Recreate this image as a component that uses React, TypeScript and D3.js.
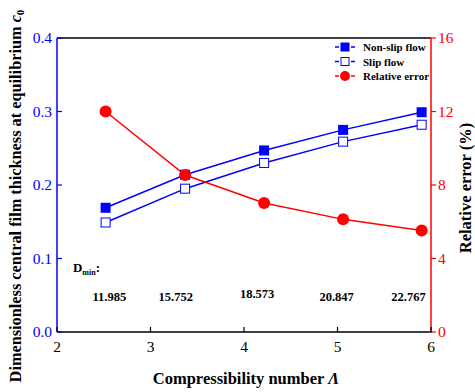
import * as d3 from "d3";

const lambdas = [2.52, 3.37, 4.215, 5.06, 5.9];
const nonSlip = [0.169, 0.214, 0.247, 0.275, 0.299];
const slip = [0.149, 0.195, 0.230, 0.259, 0.282];
const relError = [12.0, 8.54, 7.02, 6.13, 5.53];
const dminLabels = ["11.985", "15.752", "18.573", "20.847", "22.767"];
const dminX = [2.56, 3.27, 4.14, 4.99, 5.76];
const xTicks = [2, 3, 4, 5, 6];
const yTicks = [0, 0.1, 0.2, 0.3, 0.4];
const rTicks = [0, 4, 8, 12, 16];

const W = 475;
const H = 392;
const m = { left: 57, right: 431, top: 38, bottom: 332 };
const font = "Liberation Serif, Times New Roman, DejaVu Serif, serif";

export default function App() {
  const x = d3.scaleLinear().domain([2, 6]).range([m.left, m.right]);
  const y = d3.scaleLinear().domain([0, 0.4]).range([m.bottom, m.top]);
  const yr = d3.scaleLinear().domain([0, 16]).range([m.bottom, m.top]);

  const line = d3
    .line<number>()
    .x((_, i) => x(lambdas[i]))
    .y((d) => y(d));
  const lineR = d3
    .line<number>()
    .x((_, i) => x(lambdas[i]))
    .y((d) => yr(d));

  const sq = 10;
  const legend = [
    { label: "Non-slip flow", color: "blue", kind: "filled" },
    { label: "Slip flow", color: "blue", kind: "open" },
    { label: "Relative error", color: "red", kind: "circle" },
  ];

  return (
    <svg width={W} height={H} style={{ position: "absolute", left: 0, top: 0, fontFamily: font }}>
      {/* frame */}
      <line x1={m.left} x2={m.right} y1={m.top} y2={m.top} stroke="black" strokeWidth={1.5} />
      <line x1={m.left} x2={m.right + 1} y1={m.bottom} y2={m.bottom} stroke="black" strokeWidth={1.5} />
      <line x1={m.left} x2={m.left} y1={m.top} y2={m.bottom} stroke="blue" strokeWidth={1.5} />
      <line x1={m.right} x2={m.right} y1={m.top} y2={m.bottom} stroke="red" strokeWidth={1.5} />

      {/* x ticks */}
      {xTicks.map((t) => (
        <g key={t}>
          <line x1={x(t)} x2={x(t)} y1={m.bottom} y2={m.bottom - 5} stroke="black" strokeWidth={1.2} />
          <text x={x(t)} y={m.bottom + 20} textAnchor="middle" fontSize={15.5}>
            {t}
          </text>
        </g>
      ))}

      {/* left ticks */}
      {yTicks.map((t) => (
        <g key={t}>
          <line x1={m.left} x2={m.left + 5} y1={y(t)} y2={y(t)} stroke="blue" strokeWidth={1.2} />
          <text x={m.left - 5} y={y(t) + 5} textAnchor="end" fontSize={15.5} fill="blue">
            {t.toFixed(1)}
          </text>
        </g>
      ))}

      {/* right ticks */}
      {rTicks.map((t) => (
        <g key={t}>
          <line x1={m.right} x2={m.right + 5} y1={yr(t)} y2={yr(t)} stroke="red" strokeWidth={1.2} />
          <text x={m.right + 7} y={yr(t) + 5} textAnchor="start" fontSize={15.5} fill="red">
            {t}
          </text>
        </g>
      ))}

      {/* series lines */}
      <path d={line(nonSlip) ?? ""} fill="none" stroke="blue" strokeWidth={1.5} />
      <path d={line(slip) ?? ""} fill="none" stroke="blue" strokeWidth={1.5} />
      <path d={lineR(relError) ?? ""} fill="none" stroke="red" strokeWidth={1.5} />

      {nonSlip.map((v, i) => (
        <rect key={"n" + i} x={x(lambdas[i]) - sq / 2} y={y(v) - sq / 2} width={sq} height={sq} fill="blue" />
      ))}
      {slip.map((v, i) => (
        <rect
          key={"s" + i}
          x={x(lambdas[i]) - sq / 2 + 0.5}
          y={y(v) - sq / 2 + 0.5}
          width={sq - 1}
          height={sq - 1}
          fill="white"
          stroke="blue"
          strokeWidth={1}
        />
      ))}
      {relError.map((v, i) => (
        <circle key={"r" + i} cx={x(lambdas[i])} cy={yr(v)} r={6} fill="red" />
      ))}

      {/* D_min annotation */}
      <text x={x(2.17)} y={272} fontSize={13} fontWeight="bold">
        D<tspan fontSize={8} dy={3}>min</tspan>
        <tspan dy={-3}>:</tspan>
      </text>
      {dminLabels.map((s, i) => (
        <text key={s} x={x(dminX[i])} y={i === 2 ? 298 : 301} textAnchor="middle" fontSize={12.5} fontWeight="bold">
          {s}
        </text>
      ))}

      {/* legend */}
      {legend.map((d, i) => {
        const cy = 47 + i * 14.5;
        const cx = 345;
        return (
          <g key={d.label}>
            <line x1={cx - 10} x2={cx - 6} y1={cy} y2={cy} stroke={d.color} strokeWidth={1.5} />
            <line x1={cx + 6} x2={cx + 10} y1={cy} y2={cy} stroke={d.color} strokeWidth={1.5} />
            {d.kind === "filled" && <rect x={cx - 4.5} y={cy - 4.5} width={9} height={9} fill="blue" />}
            {d.kind === "open" && (
              <rect x={cx - 4} y={cy - 4} width={8} height={8} fill="white" stroke="blue" strokeWidth={1} />
            )}
            {d.kind === "circle" && <circle cx={cx} cy={cy} r={5} fill="red" />}
            <text x={cx + 18} y={cy + 4} fontSize={11} fontWeight="bold">
              {d.label}
            </text>
          </g>
        );
      })}

      {/* axis titles */}
      <text x={(m.left + m.right) / 2 + 2} y={384} textAnchor="middle" fontSize={16.5} fontWeight="bold">
        Compressibility number <tspan fontStyle="italic">Λ</tspan>
      </text>
      <text
        transform={`translate(21,196) rotate(-90)`}
        textAnchor="middle"
        fontSize={16.3}
        fontWeight="bold"
      >
        Dimensionless central film thickness at equilibrium <tspan fontStyle="italic">c</tspan>
        <tspan fontSize={11} dy={3}>0</tspan>
      </text>
      <text
        transform={`translate(471,${(m.top + m.bottom) / 2 + 3}) rotate(-90)`}
        textAnchor="middle"
        fontSize={16.5}
        fontWeight="bold"
      >
        Relative error (%)
      </text>
    </svg>
  );
}
